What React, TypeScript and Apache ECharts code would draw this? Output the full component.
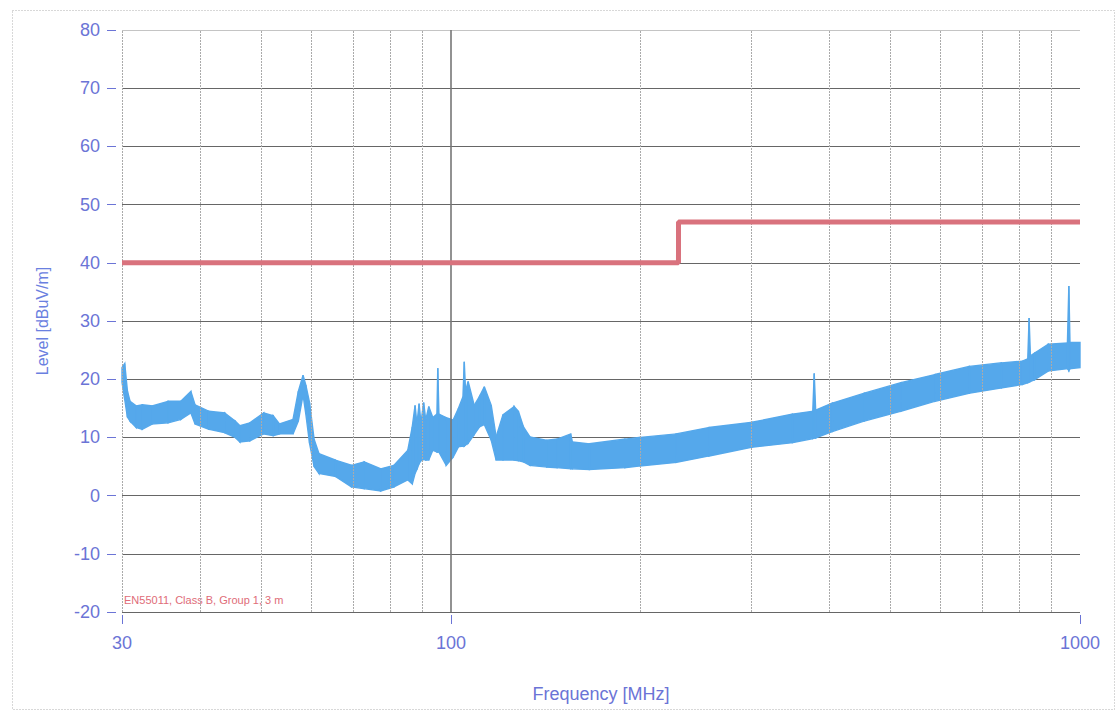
import React, { useEffect, useRef } from "react";
import * as echarts from "echarts";

// Measured trace envelope (frequency in MHz, level in dBuV/m)
const freqMHz = [
  30.0, 30.3, 30.6, 30.9, 31.6, 32.3, 33.5, 35.5, 37.2, 38.6, 39.2, 41.2, 43.7, 45.4, 46.2, 47.9,
  50.4, 52.2, 53.4, 56.1, 57.2, 58.2, 58.8, 59.6, 60.6, 61.7, 65.5, 69.5, 72.8, 77.3, 81.2, 85.4,
  86.8, 87.7, 88.3, 89.0, 89.6, 90.5, 91.2, 92.2, 93.6, 95.0, 95.3, 95.7, 98.3, 100.8, 102.8, 104.5,
  105.0, 105.5, 106.5, 108.9, 111.0, 113.0, 115.9, 118.0, 121.0, 126.0, 128.0, 130.4, 133.5, 142.0,
  147.5, 155.0, 156.0, 166.0, 189.0, 200.0, 228.0, 257.0, 301.0, 349.0, 376.0, 378.0, 380.0, 404.0,
  454.0, 519.0, 588.0, 667.0, 750.0, 810.0, 826.0, 830.0, 834.0, 847.0, 890.0, 955.0, 960.0, 964.0,
  1000.0,
];
const levelLow = [
  19.5, 16.5, 13.5, 12.8, 11.7, 11.4, 12.3, 12.5, 13.1, 14.2, 12.3, 11.4, 10.8, 10.0, 9.2, 9.4,
  10.6, 10.3, 10.6, 10.6, 12.8, 17.3, 14.0, 9.0, 5.0, 3.8, 3.3, 1.5, 1.2, 0.8, 1.5, 2.7,
  2.0, 3.8, 4.5, 5.5, 6.0, 6.2, 6.1, 6.1, 7.8, 7.5, 7.5, 7.5, 5.2, 6.6, 8.4, 8.5,
  8.5, 8.7, 9.0, 10.5, 11.8, 12.2, 9.5, 6.1, 6.1, 6.1, 6.0, 5.8, 5.2, 4.9,
  4.8, 4.6, 4.6, 4.5, 4.8, 5.1, 5.7, 6.8, 8.3, 9.1, 9.8, 9.9, 9.9, 11.0,
  12.8, 14.5, 16.2, 17.6, 18.5, 19.1, 19.4, 19.5, 19.6, 19.9, 21.4, 21.8, 21.5, 21.8,
  22.0,
];
const levelHigh = [
  22.0, 22.7, 18.0, 16.2, 15.4, 15.6, 15.4, 16.2, 16.2, 17.9, 15.6, 14.5, 14.2, 12.8, 12.0, 12.5,
  14.2, 13.7, 12.3, 13.1, 17.9, 20.7, 19.0, 16.0, 9.7, 7.2, 6.1, 5.2, 5.8, 4.6, 5.2, 7.8,
  11.8, 15.5, 12.3, 15.8, 12.5, 16.0, 13.0, 15.3, 13.4, 14.0, 21.9, 14.0, 13.4, 13.0, 15.0, 17.0,
  23.0, 18.0, 19.6, 15.5, 17.0, 18.7, 15.5, 10.1, 13.9, 15.3, 14.5, 11.8, 10.1, 9.5,
  9.7, 10.6, 9.2, 8.9, 9.7, 10.0, 10.6, 11.7, 12.6, 14.0, 14.5, 21.0, 14.7, 15.9,
  17.6, 19.4, 20.8, 22.2, 22.8, 23.1, 23.5, 30.5, 24.0, 24.5, 26.0, 26.2, 36.0, 26.3,
  26.3,
];

// Limit line EN55011 Class B Group 1, 3 m
const limitFreq = [30, 230, 230, 1000];
const limitLevel = [40, 40, 47, 47];

// Axis / grid values
const xTickLabels = [30, 100, 1000];
const xGridFreqs = [30, 40, 50, 60, 70, 80, 90, 100, 200, 300, 400, 500, 600, 700, 800, 900];

const BLUE = "#55a8eb";
const RED = "#d9727d";
const LABEL = "#6b74d6";

export default function App() {
  const ref = useRef<HTMLDivElement>(null);
  useEffect(() => {
    if (!ref.current) return;
    const chart = echarts.init(ref.current, undefined, { renderer: "svg" });
    const bandData = freqMHz.map((f, i) => [f, levelLow[i], levelHigh[i]]);
    const hColors = ["#666", "#666", "#666", "#666", "#666", "#666", "#666", "#666", "#666", "#666", "#c4c4c4"];
    chart.setOption({
      animation: false,
      backgroundColor: "#fff",
      grid: { left: 122, right: 40, top: 30, bottom: 99, containLabel: false },
      xAxis: {
        type: "log",
        logBase: 10,
        min: 30,
        max: 1000,
        offset: 3,
        name: "Frequency [MHz]",
        nameLocation: "middle",
        nameGap: 70,
        nameTextStyle: { color: LABEL, fontSize: 18, fontFamily: "Liberation Sans" },
        axisLine: { show: true, onZero: false, lineStyle: { color: "rgba(255,255,255,0)", width: 0 } },
        axisTick: {
          show: true,
          length: 9,
          customValues: xTickLabels,
          lineStyle: { color: LABEL, width: 1 },
        },
        axisLabel: {
          customValues: xTickLabels,
          margin: 19,
          color: LABEL,
          fontSize: 18,
          fontFamily: "Liberation Sans",
          formatter: (v: number) => String(Math.round(v)),
        },
        splitLine: { show: false },
      },
      yAxis: {
        type: "value",
        min: -20,
        max: 80,
        interval: 10,
        offset: 6,
        name: "Level [dBuV/m]",
        nameLocation: "middle",
        nameRotate: 90,
        nameGap: 66,
        nameTextStyle: { color: "#6a80e0", fontSize: 16, fontFamily: "Liberation Sans" },
        axisLine: { show: false, onZero: false },
        axisTick: { show: true, length: 9, lineStyle: { color: LABEL, width: 1 } },
        axisLabel: { margin: 16, color: LABEL, fontSize: 18, fontFamily: "Liberation Sans" },
        splitLine: { show: true, lineStyle: { color: hColors, width: 1.2 } },
      },
      graphic: [
        {
          type: "rect",
          left: 10,
          top: 8,
          shape: { width: 1102, height: 699 },
          style: { fill: "none", stroke: "#b0b0b0", lineWidth: 1, lineDash: [1, 2] },
          silent: true,
        },
        {
          type: "text",
          left: 124,
          top: 594,
          style: {
            text: "EN55011, Class B, Group 1, 3 m",
            fill: "#e06c78",
            fontSize: 11,
            fontFamily: "Liberation Sans",
          },
        },
      ],
      series: [
        {
          name: "grid",
          type: "line",
          data: [],
          silent: true,
          markLine: {
            silent: true,
            symbol: ["none", "none"],
            label: { show: false },
            data: xGridFreqs.map((f) => ({
              xAxis: f,
              lineStyle: {
                color: f === 100 ? "#777" : "#aaa",
                width: f === 100 ? 1.6 : 1,
                type: f === 100 ? "solid" : [2, 1],
              },
            })),
          },
        },
        {
          name: "Level",
          type: "custom",
          data: bandData,
          encode: { x: 0, y: [1, 2] },
          z: 4,
          silent: true,
          renderItem: (params: any, api: any) => {
            const i = params.dataIndex;
            if (i >= bandData.length - 1) return null;
            const a = bandData[i];
            const b = bandData[i + 1];
            const p1 = api.coord([a[0], a[2]]);
            const p2 = api.coord([b[0], b[2]]);
            const p3 = api.coord([b[0], b[1]]);
            const p4 = api.coord([a[0], a[1]]);
            return {
              type: "polygon",
              shape: { points: [p1, p2, p3, p4] },
              style: { fill: BLUE, stroke: BLUE, lineWidth: 1.4 },
            };
          },
        },
        {
          name: "EN55011, Class B, Group 1, 3 m",
          type: "line",
          data: limitFreq.map((f, i) => [f, limitLevel[i]]),
          showSymbol: false,
          symbol: "none",
          lineStyle: { color: RED, width: 5 },
          z: 5,
        },
      ],
    });
    return () => chart.dispose();
  }, []);
  return (
    <div
      ref={ref}
      style={{ position: "fixed", left: 0, top: 0, width: 1120, height: 711 }}
    />
  );
}
